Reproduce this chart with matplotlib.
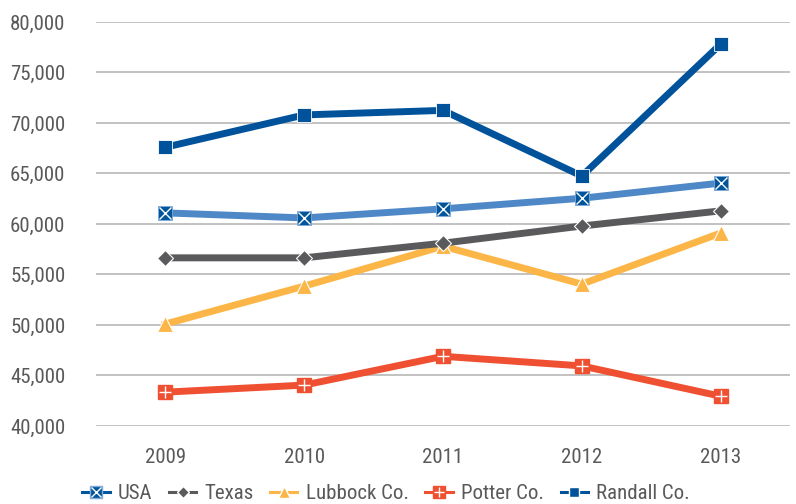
import matplotlib
matplotlib.use("Agg")
import matplotlib.pyplot as plt
from matplotlib.lines import Line2D
from matplotlib.ticker import FuncFormatter, MultipleLocator

years = ["2009", "2010", "2011", "2012", "2013"]
usa = [61100, 60600, 61500, 62550, 64050]
texas = [56650, 56650, 58100, 59800, 61300]
lubbock = [50100, 53850, 57800, 54050, 59100]
potter = [43350, 44050, 46900, 45950, 42950]
randall = [67600, 70800, 71250, 64750, 77800]

plt.rcParams["font.family"] = ["Roboto Condensed", "DejaVu Sans"]
grey = "#595959"

fig = plt.figure(figsize=(7.96, 5.04), dpi=100)
ax = fig.add_axes([96 / 796, 1 - 426 / 504, 694 / 796, 404 / 504])

x = list(range(len(years)))
lw = 5
ms = 9.5

# line + marker styles
ax.plot(x, potter, color="#ef5031", lw=lw, marker="s", ms=ms, mfc="#ef5031", mec="#ef5031", zorder=3)
ax.plot(x, potter, ls="none", marker="+", ms=ms - 1, mec="white", mew=1, zorder=4)
ax.plot(x, lubbock, color="#fcb647", lw=lw, marker="^", ms=ms + 2, mfc="#fcb647", mec="white", mew=0.8, zorder=3)
ax.plot(x, texas, color="#5a5a5c", lw=lw, marker="D", ms=ms - 1, mfc="#5a5a5c", mec="white", mew=0.8, zorder=3)
ax.plot(x, usa, color="#4f88c6", lw=lw, marker="s", ms=ms, mfc="#00559b", mec="#7fa9d8", mew=0.6, zorder=3)
ax.plot(x, usa, ls="none", marker="x", ms=ms - 1, mec="white", mew=1, zorder=4)
ax.plot(x, randall, color="#00539b", lw=lw, marker="s", ms=ms, mfc="#00539b", mec="white", mew=0.6, zorder=3)

ax.set_xlim(-0.5, len(years) - 0.5)
ax.set_ylim(40000, 80000)
ax.yaxis.set_major_locator(MultipleLocator(5000))
ax.yaxis.set_major_formatter(FuncFormatter(lambda v, p: f"{int(v):,}"))
ax.set_xticks(x)
ax.set_xticklabels(years)
ax.grid(axis="y", color="#b8b8b8", lw=1.2)
ax.set_axisbelow(True)
for s in ax.spines.values():
    s.set_visible(False)
ax.tick_params(axis="both", length=0, labelsize=15, colors=grey)
ax.tick_params(axis="y", pad=22)
ax.tick_params(axis="x", pad=16)

handles = [
    (Line2D([], [], color="#00559b", lw=2.2, marker="s", ms=8, mfc="#00559b", mec="#7fa9d8"),
     Line2D([], [], ls="none", marker="x", ms=7, mec="white", mew=1)),
    Line2D([], [], color="#5a5a5c", lw=2.2, marker="D", ms=6, mfc="#5a5a5c", mec="white"),
    Line2D([], [], color="#fcb647", lw=2.2, marker="^", ms=9, mfc="#fcb647", mec="white"),
    (Line2D([], [], color="#ef5031", lw=2.2, marker="s", ms=8, mfc="#ef5031", mec="#ef5031"),
     Line2D([], [], ls="none", marker="+", ms=7, mec="white", mew=1)),
    Line2D([], [], color="#00539b", lw=2.2, marker="s", ms=7, mfc="#00539b", mec="white"),
]
labels = ["USA", "Texas", "Lubbock Co.", "Potter Co.", "Randall Co."]
leg = fig.legend(handles, labels, loc="lower center", bbox_to_anchor=(0.485, -0.036), ncol=5,
                 frameon=False, fontsize=15, handlelength=1.3, handletextpad=0.4,
                 columnspacing=0.8, labelcolor=grey)

fig.savefig("out.png", dpi=100)
